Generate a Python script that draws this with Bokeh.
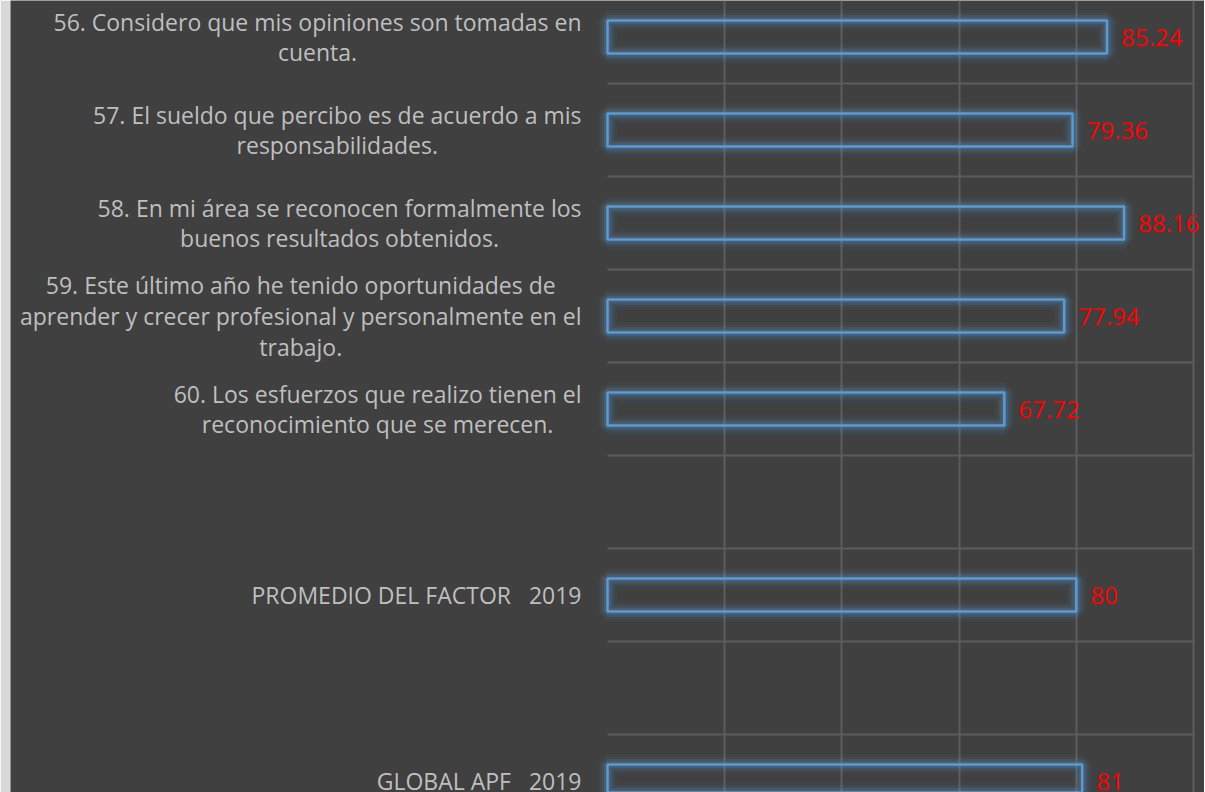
from bokeh.plotting import figure
from bokeh.models import ColumnDataSource, FixedTicker, Range1d
from bokeh.core.properties import value
from bokeh.embed import file_html
from bokeh.resources import INLINE

# ---- data ----
labels = [
    "56. Considero que mis opiniones son tomadas en\ncuenta.",
    "57. El sueldo que percibo es de acuerdo a mis\nresponsabilidades.",
    "58. En mi área se reconocen formalmente los\nbuenos resultados obtenidos.",
    "59. Este último año he tenido oportunidades de\naprender y crecer profesional y personalmente en el\ntrabajo.",
    "60. Los esfuerzos que realizo tienen el\nreconocimiento que se merecen.",
    "",
    "PROMEDIO DEL FACTOR \u00a0 2019",
    "",
    "GLOBAL APF \u00a0 2019",
]
values = [85.24, 79.36, 88.16, 77.94, 67.72, None, 80, None, 81]
value_labels = ["85.24", "79.36", "88.16", "77.94", "67.72", "", "80", "", "81"]
x_ticks = [20, 40, 60, 80, 100]

# ---- sources ----
pos = list(range(len(labels)))
bar_idx = [i for i, v in enumerate(values) if v is not None]
bars = ColumnDataSource(dict(
    y=[pos[i] for i in bar_idx],
    right=[values[i] for i in bar_idx],
    txt=[value_labels[i] for i in bar_idx],
))
lab = ColumnDataSource(dict(y=[p for p, l in zip(pos, labels) if l],
                            text=[l for l in labels if l]))
bounds = [p + 0.5 for p in pos[:-1]]
gridsrc = ColumnDataSource(dict(y=bounds, x0=[0] * len(bounds), x1=[100] * len(bounds)))

W, H = 1204, 792
LEFT = 10
FW = W - LEFT
px_per_unit = 5.86
x_start = -(607 - LEFT) / px_per_unit
x_end = x_start + FW / px_per_unit
row = 93.0
y_top = (0 - 36.5) / row
y_bot = y_top + H / row

p = figure(width=W, height=H, output_backend="svg", toolbar_location=None,
           x_range=Range1d(x_start, x_end), y_range=Range1d(y_bot, y_top),
           min_border=0, min_border_left=LEFT, min_border_right=0,
           background_fill_color="#404040",
           border_fill_color="#d9d9d9", outline_line_color=None)
p.xaxis.visible = False
p.yaxis.visible = False
p.ygrid.visible = False
p.xgrid.ticker = FixedTicker(ticks=x_ticks)
p.xgrid.grid_line_color = "#5c5c5c"
p.xgrid.grid_line_width = 2

p.segment(x0="x0", x1="x1", y0="y", y1="y", source=gridsrc,
          line_color="#5c5c5c", line_width=2)

# glow layers
bar_h = 0.355
for lw, a in [(20, 0.05), (15, 0.07), (11, 0.10), (7, 0.16)]:
    p.hbar(y="y", left=0, right="right", height=bar_h, source=bars,
           fill_color=None, line_color="#5B9BD5", line_alpha=a, line_width=lw)
p.hbar(y="y", left=0, right="right", height=bar_h, source=bars,
       fill_color=None, line_color="#5B9BD5", line_width=2.5)

p.text(x="right", y="y", text="txt", source=bars, x_offset=14,
       text_align="left", text_baseline="middle", text_color="#ff0000",
       text_font=value("Open Sans"), text_font_size="24px")

p.text(x=0, y="y", text="text", source=lab, x_offset=-26,
       anchor="center_right", text_align="center", text_baseline="middle",
       text_color="#bfbfbf", text_font=value("Open Sans"), text_font_size="23px",
       text_line_height=0.96)

open("out.html", "w").write(file_html(p, INLINE))
